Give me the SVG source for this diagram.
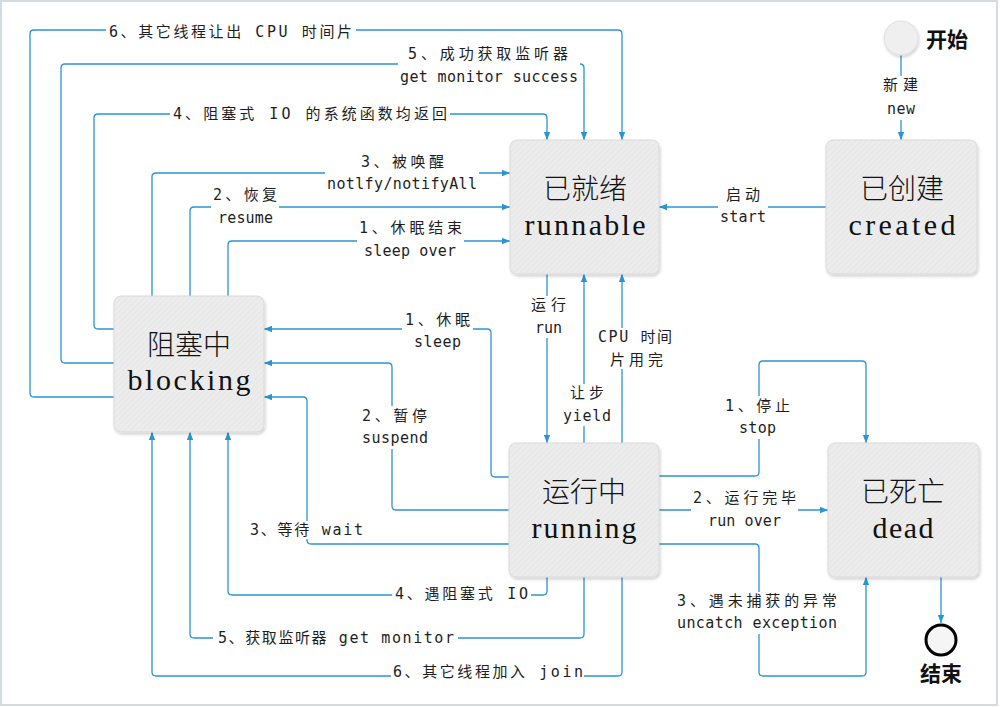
<svg xmlns="http://www.w3.org/2000/svg" width="1000" height="707" viewBox="0 0 1000 707">
<defs>
  <style>
    .bg { fill: #ffffff; }
    .frame { fill: none; stroke: #d3dbe3; stroke-width: 2; }
    .box { fill: url(#hatch); stroke: #d9d9d9; stroke-width: 1; }
    .cjk { font-family: "Noto Sans CJK SC", sans-serif; font-weight: 300; font-size: 28px; fill: #111; text-anchor: middle; }
    .lat { font-family: "Liberation Serif", "DejaVu Serif", serif; font-size: 30px; fill: #111; text-anchor: middle; }
    .edge { fill: none; stroke: #2b95d3; stroke-width: 1.3; }
    .arr { marker-end: url(#tip); }
    .lbl { font-family: "DejaVu Sans Mono", "Noto Sans CJK SC", monospace; font-size: 15px; fill: #1e1e1e; dominant-baseline: central; }
    .mask { fill: #ffffff; }
    .term { font-family: "Noto Sans CJK SC", sans-serif; font-size: 21px; font-weight: bold; fill: #111; }
  </style>
  <pattern id="hatch" width="4" height="4" patternUnits="userSpaceOnUse" patternTransform="rotate(45)">
    <rect width="4" height="4" fill="#ececec"/>
    <line x1="0" y1="0" x2="0" y2="4" stroke="#e3e3e3" stroke-width="1.2"/>
  </pattern>
  <marker id="tip" viewBox="0 0 8 8" refX="8" refY="4" markerWidth="8" markerHeight="8" markerUnits="userSpaceOnUse" orient="auto">
    <path d="M0,0.8 L8,4 L0,7.2 Z" fill="#2b95d3"/>
  </marker>
  <filter id="shadow" x="-10%" y="-10%" width="125%" height="125%">
    <feDropShadow dx="1" dy="2" stdDeviation="1.5" flood-color="#000" flood-opacity="0.18"/>
  </filter>
</defs>

<rect class="bg" x="0" y="0" width="1000" height="707"/>
<rect class="frame" x="1" y="1" width="996" height="704"/>

<!-- connectors -->
<g id="connectors">
  <!-- blocking -> runnable (top loop) -->
  <path class="edge arr" d="M114,397 H34 Q30,397 30,393 V34 Q30,30 34,30 H618 Q622,30 622,34 V140"/>
  <path class="edge arr" d="M114,363 H65 Q61,363 61,359 V68 Q61,64 65,64 H580 Q584,64 584,68 V140"/>
  <path class="edge arr" d="M114,329 H98 Q94,329 94,325 V118 Q94,114 98,114 H543 Q547,114 547,118 V140"/>
  <!-- blocking -> runnable (left side) -->
  <path class="edge arr" d="M152,296 V177 Q152,173 156,173 H510"/>
  <path class="edge arr" d="M190,296 V211 Q190,207 194,207 H510"/>
  <path class="edge arr" d="M228,296 V245 Q228,241 232,241 H510"/>
  <!-- start / created / runnable -->
  <path class="edge arr" d="M901,55 V140"/>
  <path class="edge arr" d="M826,207 H659"/>
  <!-- runnable <-> running -->
  <path class="edge arr" d="M547,274 V443"/>
  <path class="edge arr" d="M584,443 V274"/>
  <path class="edge arr" d="M622,443 V274"/>
  <!-- running -> blocking (right side) -->
  <path class="edge arr" d="M509,477 H495 Q491,477 491,473 V333 Q491,329 487,329 H264"/>
  <path class="edge arr" d="M509,510 H396 Q392,510 392,506 V367 Q392,363 388,363 H264"/>
  <path class="edge arr" d="M509,544 H311 Q307,544 307,540 V401 Q307,397 303,397 H264"/>
  <!-- running -> blocking (bottom) -->
  <path class="edge arr" d="M547,577 V591 Q547,595 543,595 H232 Q228,595 228,591 V432"/>
  <path class="edge arr" d="M584,577 V634 Q584,638 580,638 H194 Q190,638 190,634 V432"/>
  <path class="edge arr" d="M622,577 V672 Q622,676 618,676 H156 Q152,676 152,672 V432"/>
  <!-- running -> dead -->
  <path class="edge arr" d="M659,476 H755 Q759,476 759,472 V365 Q759,361 763,361 H862 Q866,361 866,365 V443"/>
  <path class="edge arr" d="M659,510 H828"/>
  <path class="edge arr" d="M659,544 H755 Q759,544 759,548 V672 Q759,676 763,676 H862 Q866,676 866,672 V577"/>
  <!-- dead -> end -->
  <path class="edge arr" d="M941,577 V623"/>

  <!-- connector labels -->
  <rect class="mask" x="106" y="22" width="250" height="18"/>
  <text class="lbl" x="109" y="32" textLength="243" lengthAdjust="spacing">6、其它线程让出 CPU 时间片</text>

  <rect class="mask" x="398" y="45" width="182" height="42"/>
  <text class="lbl" x="408" y="54" textLength="160" lengthAdjust="spacing">5、成功获取监听器</text>
  <text class="lbl" x="400" y="77" textLength="178" lengthAdjust="spacing">get monitor success</text>

  <rect class="mask" x="170" y="105" width="280" height="18"/>
  <text class="lbl" x="173" y="114" textLength="274" lengthAdjust="spacing">4、阻塞式 IO 的系统函数均返回</text>

  <rect class="mask" x="325" y="153" width="154" height="41"/>
  <text class="lbl" x="361" y="162" textLength="83" lengthAdjust="spacing">3、被唤醒</text>
  <text class="lbl" x="327" y="184" textLength="150" lengthAdjust="spacing">notlfy/notifyAll</text>

  <rect class="mask" x="211" y="187" width="68" height="40"/>
  <text class="lbl" x="213" y="195" textLength="64" lengthAdjust="spacing">2、恢复</text>
  <text class="lbl" x="218" y="218" textLength="55" lengthAdjust="spacing">resume</text>

  <rect class="mask" x="357" y="220" width="107" height="40"/>
  <text class="lbl" x="359" y="228" textLength="103" lengthAdjust="spacing">1、休眠结束</text>
  <text class="lbl" x="364" y="251" textLength="92" lengthAdjust="spacing">sleep over</text>

  <rect class="mask" x="718" y="187" width="50" height="40"/>
  <text class="lbl" x="726" y="195" textLength="34" lengthAdjust="spacing">启动</text>
  <text class="lbl" x="720" y="217" textLength="46" lengthAdjust="spacing">start</text>

  <rect class="mask" x="881" y="76" width="40" height="44"/>
  <text class="lbl" x="883" y="85" textLength="35" lengthAdjust="spacing">新建</text>
  <text class="lbl" x="887" y="109" textLength="28" lengthAdjust="spacing">new</text>

  <rect class="mask" x="529" y="296" width="39" height="42"/>
  <text class="lbl" x="531" y="305" textLength="35" lengthAdjust="spacing">运行</text>
  <text class="lbl" x="535" y="328" textLength="27" lengthAdjust="spacing">run</text>

  <rect class="mask" x="596" y="328" width="78" height="41"/>
  <text class="lbl" x="598" y="337" textLength="74" lengthAdjust="spacing">CPU 时间</text>
  <text class="lbl" x="610" y="360" textLength="53" lengthAdjust="spacing">片用完</text>

  <rect class="mask" x="561" y="384" width="52" height="42"/>
  <text class="lbl" x="570" y="393" textLength="34" lengthAdjust="spacing">让步</text>
  <text class="lbl" x="563" y="416" textLength="48" lengthAdjust="spacing">yield</text>

  <rect class="mask" x="402" y="311" width="71" height="41"/>
  <text class="lbl" x="405" y="320" textLength="65" lengthAdjust="spacing">1、休眠</text>
  <text class="lbl" x="414" y="342" textLength="47" lengthAdjust="spacing">sleep</text>

  <rect class="mask" x="359" y="406" width="72" height="43"/>
  <text class="lbl" x="362" y="416" textLength="65" lengthAdjust="spacing">2、暂停</text>
  <text class="lbl" x="362" y="438" textLength="66" lengthAdjust="spacing">suspend</text>

  <rect class="mask" x="247" y="521" width="119" height="18"/>
  <text class="lbl" x="250" y="530" textLength="113" lengthAdjust="spacing">3、等待 wait</text>

  <rect class="mask" x="392" y="586" width="139" height="18"/>
  <text class="lbl" x="395" y="594" textLength="133" lengthAdjust="spacing">4、遇阻塞式 IO</text>

  <rect class="mask" x="213" y="629" width="245" height="18"/>
  <text class="lbl" x="218" y="638" textLength="236" lengthAdjust="spacing">5、获取监听器 get monitor</text>

  <rect class="mask" x="391" y="663" width="193" height="18"/>
  <text class="lbl" x="393" y="672" textLength="190" lengthAdjust="spacing">6、其它线程加入 join</text>

  <rect class="mask" x="722" y="396" width="72" height="43"/>
  <text class="lbl" x="725" y="406" textLength="65" lengthAdjust="spacing">1、停止</text>
  <text class="lbl" x="739" y="428" textLength="37" lengthAdjust="spacing">stop</text>

  <rect class="mask" x="691" y="489" width="107" height="41"/>
  <text class="lbl" x="693" y="498" textLength="103" lengthAdjust="spacing">2、运行完毕</text>
  <text class="lbl" x="708" y="521" textLength="73" lengthAdjust="spacing">run over</text>

  <rect class="mask" x="674" y="592" width="166" height="42"/>
  <text class="lbl" x="677" y="601" textLength="160" lengthAdjust="spacing">3、遇未捕获的异常</text>
  <text class="lbl" x="677" y="623" textLength="160" lengthAdjust="spacing">uncatch exception</text>
</g>

<!-- initial state -->
<g id="start">
  <circle cx="901" cy="38" r="17" fill="#efefef" stroke="#dedede" stroke-width="1" filter="url(#shadow)"/>
  <text class="term" x="926" y="47">开始</text>
</g>

<!-- final state -->
<g id="end">
  <circle cx="941" cy="640" r="15" fill="#f5f5f5" stroke="#000" stroke-width="3"/>
  <text class="term" x="941" y="681" text-anchor="middle">结束</text>
</g>

<g id="runnable">
  <rect class="box" x="510" y="140" width="149" height="134" rx="7" filter="url(#shadow)"/>
  <text class="cjk" x="585" y="199">已就绪</text>
  <text class="lat" x="585" y="235" textLength="121" lengthAdjust="spacing">runnable</text>
</g>

<g id="created">
  <rect class="box" x="826" y="140" width="151" height="134" rx="7" filter="url(#shadow)"/>
  <text class="cjk" x="902" y="199">已创建</text>
  <text class="lat" x="902" y="235" textLength="107" lengthAdjust="spacing">created</text>
</g>

<g id="blocking">
  <rect class="box" x="114" y="296" width="150" height="136" rx="7" filter="url(#shadow)"/>
  <text class="cjk" x="189" y="355">阻塞中</text>
  <text class="lat" x="189" y="390" textLength="123" lengthAdjust="spacing">blocking</text>
</g>

<g id="running">
  <rect class="box" x="509" y="443" width="150" height="134" rx="7" filter="url(#shadow)"/>
  <text class="cjk" x="584" y="502">运行中</text>
  <text class="lat" x="584" y="538" textLength="105" lengthAdjust="spacing">running</text>
</g>

<g id="dead">
  <rect class="box" x="828" y="443" width="151" height="134" rx="7" filter="url(#shadow)"/>
  <text class="cjk" x="903" y="502">已死亡</text>
  <text class="lat" x="903" y="538" textLength="61" lengthAdjust="spacing">dead</text>
</g>
</svg>
